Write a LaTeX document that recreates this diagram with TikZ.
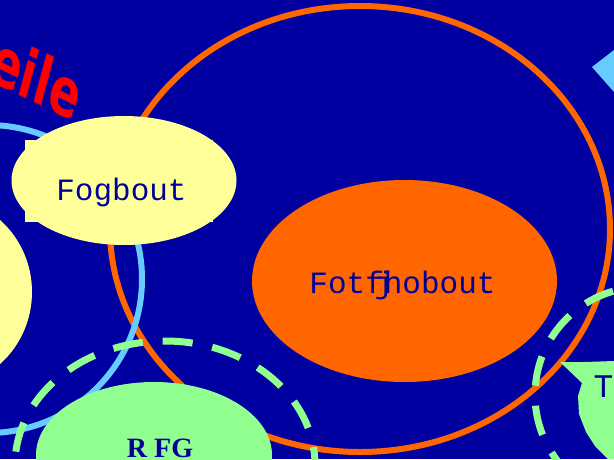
\documentclass[tikz,border=0pt]{standalone}
\usepackage{fontspec}
\usetikzlibrary{shapes.geometric}
\newfontfamily\monofont{Liberation Mono}
\newfontfamily\seriffont{Liberation Serif}
\newfontfamily\redfont{DejaVu Sans Condensed}
\definecolor{bgblue}{RGB}{0,0,160}
\definecolor{orangec}{RGB}{255,102,0}
\definecolor{yellowc}{RGB}{255,255,153}
\definecolor{lblue}{RGB}{102,204,255}
\definecolor{greenc}{RGB}{144,255,144}
\definecolor{txtblue}{RGB}{0,0,153}
\tikzset{
  blob/.style={ellipse, inner sep=0pt, draw=none},
  montext/.style={anchor=base, inner sep=0pt, text=txtblue, font=\monofont\fontsize{31}{31}\selectfont},
  sertext/.style={anchor=base, inner sep=0pt, text=txtblue, font=\seriffont\bfseries\fontsize{28}{28}\selectfont},
  ring/.style={line width=6pt},
  dashring/.style={greenc, line width=7pt, dash pattern=on 30pt off 20pt},
}
\begin{document}
\begin{tikzpicture}[x=1pt,y=-1pt]
\useasboundingbox (0,0) rectangle (614,459);
\clip (0,0) rectangle (614,459);
\fill[bgblue] (0,0) rectangle (614,459);
% big orange ring
\draw[ring, orangec] (360,229) ellipse [x radius=250pt, y radius=223pt];
% light blue ring
\draw[ring, lblue] (-12,279) circle [radius=154pt];
% dashed green rings
\draw[dashring, dash phase=12pt] (165,465) ellipse [x radius=150pt, y radius=124pt];
\draw[dashring] (643,395) circle [radius=108pt];
% left yellow ellipse
\node[blob, fill=yellowc, minimum width=184pt, minimum height=190pt] (lefty) at (-60,292) {};
% Fogbout
\fill[yellowc] (25,140) rectangle (213,222);
\node[blob, fill=yellowc, minimum width=225pt, minimum height=129pt] (fog) at (124,180.5) {};
\node[montext] (fogt) at (121.5,200) {Fogbout};
% Fotfjhobout
\node[blob, fill=orangec, minimum width=305pt, minimum height=202pt] (fot) at (404.5,281) {};
\node[montext] (fott) at (402.5,293) {Fotf\kern-.3em j\kern-.3em hobout};
% R FG
\node[blob, fill=greenc, minimum width=236pt, minimum height=146pt] (rfg) at (154,455) {};
\node[sertext] (rfgt) at (160,457) {R FG};
% green callout with T
\fill[greenc] (560,362) -- (585,362) -- (614,361) -- (614,459) -- (608,459) -- (595,446) -- (586,432) -- (579,414) -- (578,396) -- (582,383) -- cycle;
\node[montext, font=\monofont\fontsize{33}{33}\selectfont] (tt) at (603.5,397) {T};
% light blue diamond
\fill[lblue] (592,67) -- (614,50) -- (640,30) -- (700,70) -- (640,110) -- (614,92) -- cycle;
% red text
\node[text=red, font=\redfont\bfseries\fontsize{68}{68}\selectfont, xscale=0.74, rotate=-20, inner sep=0pt] (redt) at (37,77) {eile};
\end{tikzpicture}
\end{document}
